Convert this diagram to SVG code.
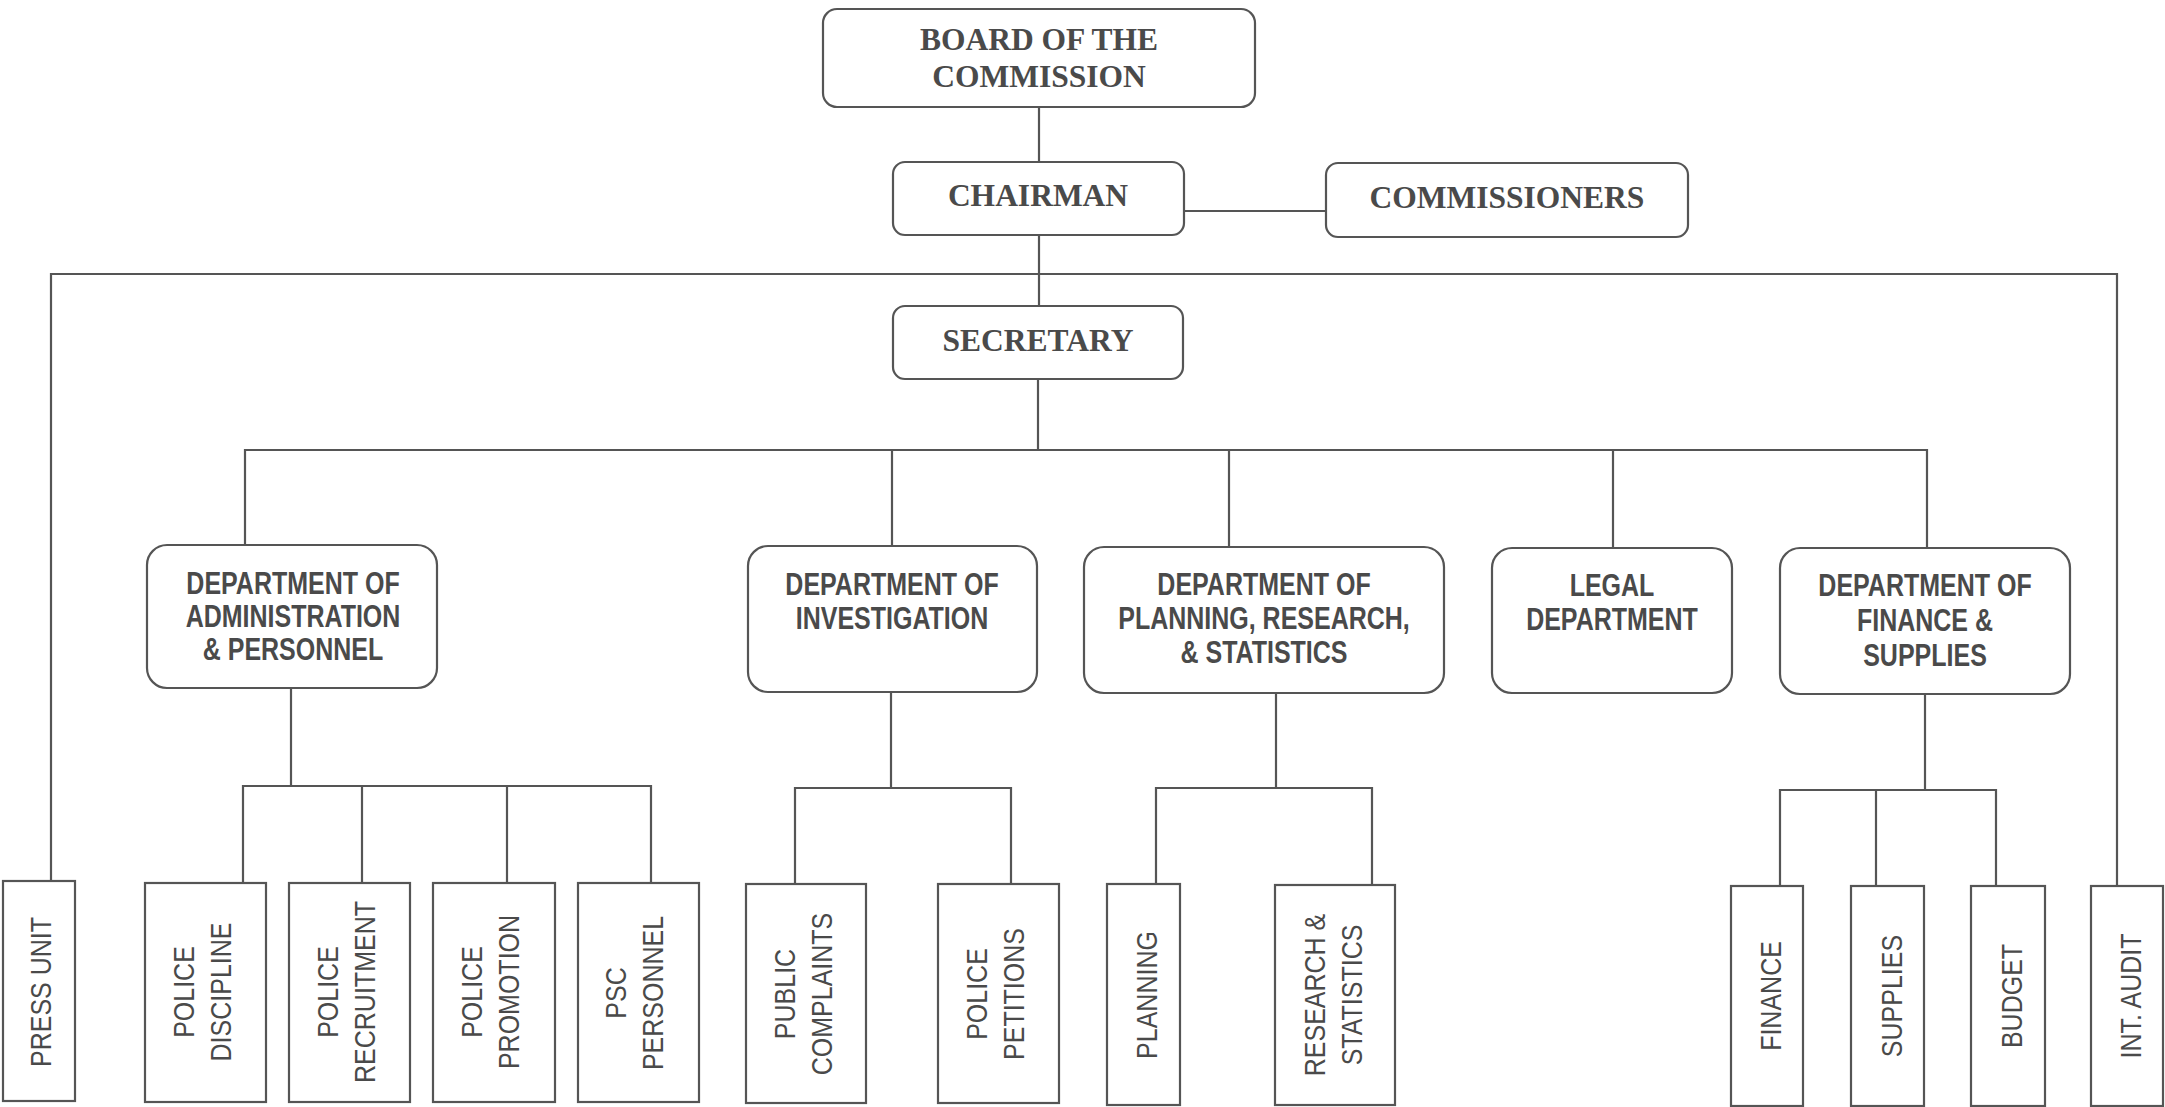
<svg xmlns="http://www.w3.org/2000/svg" width="2165" height="1107" viewBox="0 0 2165 1107">
<style>
.bg{fill:#ffffff}
.box{fill:#ffffff;stroke:#555555;stroke-width:2.2}
.ln{stroke:#555555;stroke-width:2.2;fill:none}
.serif{font-family:"Liberation Serif","Times New Roman",serif;font-weight:bold;font-size:31.5px;fill:#4a4a4a;text-anchor:middle}
.dept{font-family:"Liberation Sans",Arial,Helvetica,sans-serif;font-weight:bold;font-size:25px;fill:#4a4a4a;text-anchor:middle}
.unit{font-family:"Liberation Sans",Arial,Helvetica,sans-serif;font-size:25px;fill:#4a4a4a;text-anchor:middle}
</style>
<rect class="bg" x="0" y="0" width="2165" height="1107"/>
<g id="connectors">
<path class="ln" d="M1039 107V162"/>
<path class="ln" d="M1184 211H1326"/>
<path class="ln" d="M1039 235V306"/>
<path class="ln" d="M51 881V274H2117V886"/>
<path class="ln" d="M1038 379V450"/>
<path class="ln" d="M245 545V450H1927V548"/>
<path class="ln" d="M892 450V546"/>
<path class="ln" d="M1229 450V547"/>
<path class="ln" d="M1613 450V548"/>
<path class="ln" d="M291 688V786"/>
<path class="ln" d="M243 883V786H651V883"/>
<path class="ln" d="M362 786V883"/>
<path class="ln" d="M507 786V883"/>
<path class="ln" d="M891 692V788"/>
<path class="ln" d="M795 884V788H1011V884"/>
<path class="ln" d="M1276 693V788"/>
<path class="ln" d="M1156 885V788H1372V885"/>
<path class="ln" d="M1925 694V790"/>
<path class="ln" d="M1780 886V790H1996V886"/>
<path class="ln" d="M1876 790V886"/>
</g>
<g id="board">
<rect class="box" x="823" y="9" width="432" height="98" rx="14"/>
<text class="serif" x="1039" y="50">BOARD OF THE</text>
<text class="serif" x="1039" y="87">COMMISSION</text>
</g>
<g id="chairman">
<rect class="box" x="893" y="162" width="291" height="73" rx="12"/>
<text class="serif" x="1038" y="206">CHAIRMAN</text>
</g>
<g id="commissioners">
<rect class="box" x="1326" y="163" width="362" height="74" rx="12"/>
<text class="serif" x="1507" y="208">COMMISSIONERS</text>
</g>
<g id="secretary">
<rect class="box" x="893" y="306" width="290" height="73" rx="12"/>
<text class="serif" x="1038" y="351">SECRETARY</text>
</g>
<g id="dept-admin">
<rect class="box" x="147" y="545" width="290" height="143" rx="20"/>
<text class="dept" transform="translate(293 594) scale(1 1.22)">DEPARTMENT OF</text>
<text class="dept" transform="translate(293 627) scale(1 1.22)">ADMINISTRATION</text>
<text class="dept" transform="translate(293 660) scale(1 1.22)">&amp; PERSONNEL</text>
</g>
<g id="dept-investigation">
<rect class="box" x="748" y="546" width="289" height="146" rx="20"/>
<text class="dept" transform="translate(892 595) scale(1 1.22)">DEPARTMENT OF</text>
<text class="dept" transform="translate(892 629) scale(1 1.22)">INVESTIGATION</text>
</g>
<g id="dept-planning">
<rect class="box" x="1084" y="547" width="360" height="146" rx="20"/>
<text class="dept" transform="translate(1264 595) scale(1 1.22)">DEPARTMENT OF</text>
<text class="dept" transform="translate(1264 629) scale(1 1.22)">PLANNING, RESEARCH,</text>
<text class="dept" transform="translate(1264 663) scale(1 1.22)">&amp; STATISTICS</text>
</g>
<g id="dept-legal">
<rect class="box" x="1492" y="548" width="240" height="145" rx="20"/>
<text class="dept" transform="translate(1612 596) scale(1 1.22)">LEGAL</text>
<text class="dept" transform="translate(1612 630) scale(1 1.22)">DEPARTMENT</text>
</g>
<g id="dept-finance">
<rect class="box" x="1780" y="548" width="290" height="146" rx="20"/>
<text class="dept" transform="translate(1925 596) scale(1 1.22)">DEPARTMENT OF</text>
<text class="dept" transform="translate(1925 631) scale(1 1.22)">FINANCE &amp;</text>
<text class="dept" transform="translate(1925 666) scale(1 1.22)">SUPPLIES</text>
</g>
<g id="press-unit">
<rect class="box" x="3" y="881" width="72" height="220"/>
<g transform="translate(40 992) rotate(-90) scale(1 1.2)"><text class="unit" y="9">PRESS UNIT</text></g>
</g>
<g id="police-discipline">
<rect class="box" x="145" y="883" width="121" height="219"/>
<g transform="translate(202 992) rotate(-90) scale(1 1.2)"><text class="unit" y="-6.5">POLICE</text><text class="unit" y="24.4">DISCIPLINE</text></g>
</g>
<g id="police-recruitment">
<rect class="box" x="289" y="883" width="121" height="219"/>
<g transform="translate(346 992) rotate(-90) scale(1 1.2)"><text class="unit" y="-6.5">POLICE</text><text class="unit" y="24.4">RECRUITMENT</text></g>
</g>
<g id="police-promotion">
<rect class="box" x="433" y="883" width="122" height="219"/>
<g transform="translate(490 992) rotate(-90) scale(1 1.2)"><text class="unit" y="-6.5">POLICE</text><text class="unit" y="24.4">PROMOTION</text></g>
</g>
<g id="psc-personnel">
<rect class="box" x="578" y="883" width="121" height="219"/>
<g transform="translate(634 993) rotate(-90) scale(1 1.2)"><text class="unit" y="-6.5">PSC</text><text class="unit" y="24.4">PERSONNEL</text></g>
</g>
<g id="public-complaints">
<rect class="box" x="746" y="884" width="120" height="219"/>
<g transform="translate(803 994) rotate(-90) scale(1 1.2)"><text class="unit" y="-6.5">PUBLIC</text><text class="unit" y="24.4">COMPLAINTS</text></g>
</g>
<g id="police-petitions">
<rect class="box" x="938" y="884" width="121" height="219"/>
<g transform="translate(995 994) rotate(-90) scale(1 1.2)"><text class="unit" y="-6.5">POLICE</text><text class="unit" y="24.4">PETITIONS</text></g>
</g>
<g id="planning">
<rect class="box" x="1107" y="884" width="73" height="221"/>
<g transform="translate(1146 995) rotate(-90) scale(1 1.2)"><text class="unit" y="9">PLANNING</text></g>
</g>
<g id="research-statistics">
<rect class="box" x="1275" y="885" width="120" height="220"/>
<g transform="translate(1333 995) rotate(-90) scale(1 1.2)"><text class="unit" y="-6.5">RESEARCH &amp;</text><text class="unit" y="24.4">STATISTICS</text></g>
</g>
<g id="finance">
<rect class="box" x="1731" y="886" width="72" height="220"/>
<g transform="translate(1770 996) rotate(-90) scale(1 1.2)"><text class="unit" y="9">FINANCE</text></g>
</g>
<g id="supplies">
<rect class="box" x="1851" y="886" width="73" height="220"/>
<g transform="translate(1891 996) rotate(-90) scale(1 1.2)"><text class="unit" y="9">SUPPLIES</text></g>
</g>
<g id="budget">
<rect class="box" x="1971" y="886" width="74" height="220"/>
<g transform="translate(2011 996) rotate(-90) scale(1 1.2)"><text class="unit" y="9">BUDGET</text></g>
</g>
<g id="int-audit">
<rect class="box" x="2091" y="886" width="72" height="220"/>
<g transform="translate(2130 996) rotate(-90) scale(1 1.2)"><text class="unit" y="9">INT. AUDIT</text></g>
</g>
</svg>
